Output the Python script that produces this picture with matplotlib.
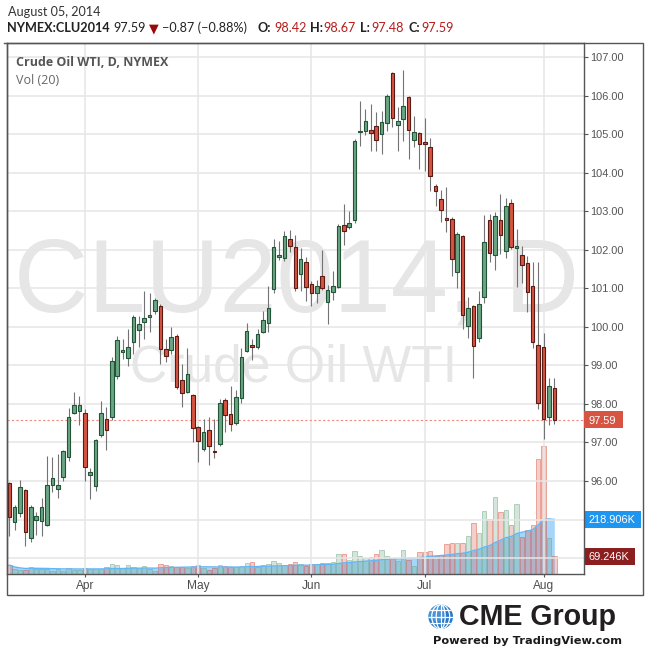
import numpy as np
import pandas as pd
import matplotlib
matplotlib.use('Agg')
import matplotlib.pyplot as plt
from matplotlib import font_manager
from matplotlib.colors import to_rgba
from matplotlib.patches import Rectangle, Circle, Ellipse
from matplotlib.transforms import blended_transform_factory

# daily candles of CLU2014, 12 Mar 2014 .. 5 Aug 2014
opens = [95.94, 94.93, 95.16, 95.76, 94.51, 94.99, 94.96, 94.85, 95.89, 95.79,
         96.10, 96.62, 97.76, 97.81, 97.76, 96.15, 95.86, 97.19, 97.60, 97.65,
         98.73, 99.35, 99.18, 99.60, 99.91, 100.12, 100.25, 100.40, 100.53, 99.42,
         99.39, 99.75, 98.61, 98.30, 98.22, 97.39, 96.82, 97.32, 96.79, 96.95,
         98.09, 97.73, 97.50, 98.15, 99.38, 99.52, 99.47, 99.86, 100.09, 100.98,
         101.80, 101.78, 102.27, 102.06, 101.36, 101.67, 101.10, 100.87, 101.31, 100.64,
         100.90, 101.04, 102.63, 102.58, 102.76, 105.05, 105.07, 105.10, 105.20, 105.00,
         105.28, 106.58, 105.23, 105.38, 105.95, 104.84, 105.02, 104.79, 104.66, 103.65,
         103.31, 102.82, 102.79, 101.42, 102.35, 100.03, 100.53, 99.72, 100.78, 102.76,
         101.86, 102.76, 101.96, 103.21, 102.04, 101.86, 101.65, 101.05, 99.52, 99.47,
         97.65, 98.42]
highs = [95.98, 95.38, 96.03, 95.79, 95.38, 95.19, 95.56, 96.64, 96.62, 96.70,
         96.81, 97.89, 98.30, 98.20, 97.87, 96.33, 97.08, 98.07, 97.91, 99.21,
         99.75, 99.68, 99.93, 100.31, 100.27, 100.92, 100.87, 100.74, 100.58, 99.68,
         99.99, 99.81, 99.04, 99.44, 98.25, 97.42, 97.61, 97.65, 97.61, 98.12,
         98.15, 98.46, 98.35, 99.44, 100.10, 99.68, 99.93, 100.40, 101.05, 102.28,
         102.23, 102.48, 102.51, 102.38, 102.05, 101.81, 101.19, 101.22, 101.99, 101.09,
         101.45, 102.67, 103.19, 103.00, 104.87, 105.85, 105.65, 105.77, 105.57, 105.59,
         106.03, 106.60, 105.70, 106.66, 105.98, 105.46, 105.05, 105.41, 104.89, 103.71,
         103.55, 103.62, 102.85, 102.46, 102.38, 100.77, 100.56, 100.92, 102.90, 102.93,
         102.97, 103.44, 103.34, 103.32, 102.54, 102.10, 101.83, 101.67, 101.67, 99.83,
         98.67, 98.67]
lows = [94.58, 94.74, 95.06, 94.32, 94.43, 94.60, 94.58, 94.83, 95.71, 95.55,
        95.99, 96.53, 97.74, 97.44, 96.01, 95.52, 95.75, 97.13, 96.81, 97.59,
        98.65, 99.17, 98.99, 99.30, 99.47, 99.68, 99.87, 100.33, 99.04, 99.08,
        99.30, 98.38, 97.93, 98.28, 97.02, 96.49, 96.78, 96.42, 96.60, 96.90,
        97.26, 97.29, 97.45, 98.02, 99.35, 99.14, 99.42, 99.83, 99.86, 100.87,
        101.72, 101.70, 101.93, 100.93, 100.92, 100.68, 100.55, 100.62, 100.95, 100.07,
        100.70, 101.01, 102.13, 102.54, 102.69, 104.68, 104.98, 104.55, 104.55, 104.48,
        105.07, 105.18, 104.55, 104.81, 104.35, 104.66, 104.09, 104.05, 103.53, 103.14,
        102.71, 102.47, 101.33, 101.00, 99.93, 99.72, 98.68, 99.61, 100.63, 101.67,
        101.48, 101.89, 101.79, 102.02, 101.02, 101.14, 100.38, 99.44, 97.88, 97.09,
        97.44, 97.48]
closes = [95.06, 95.32, 95.84, 94.67, 95.32, 95.09, 95.32, 95.89, 96.07, 95.89,
          96.77, 97.65, 97.96, 97.96, 96.36, 96.23, 97.06, 97.76, 97.32, 99.11,
          99.65, 99.39, 99.47, 100.25, 100.07, 100.22, 100.30, 100.69, 99.42, 99.24,
          99.73, 98.43, 98.28, 98.77, 97.37, 97.03, 97.26, 96.90, 96.74, 98.02,
          97.71, 97.47, 98.17, 99.21, 99.88, 99.47, 99.81, 100.17, 100.48, 102.06,
          101.85, 102.35, 102.09, 101.00, 101.75, 101.03, 100.87, 101.05, 101.00, 100.95,
          101.05, 102.61, 102.48, 102.69, 104.81, 105.09, 105.33, 105.02, 104.84, 105.31,
          105.98, 105.41, 105.33, 105.72, 105.10, 105.05, 104.74, 104.74, 103.91, 103.51,
          103.02, 102.78, 101.75, 102.40, 100.30, 100.48, 99.51, 100.58, 102.19, 101.92,
          102.87, 102.37, 103.13, 102.06, 102.09, 101.60, 100.90, 99.60, 98.02, 97.60,
          98.46, 97.59]
# volume in thousands of contracts
volumes = [34, 19, 15, 13, 26, 19, 19, 19, 11, 17,
           12, 21, 16, 15, 21, 20, 17, 20, 26, 39,
           34, 21, 34, 26, 24, 30, 17, 11, 38, 34,
           30, 26, 26, 21, 30, 34, 21, 15, 21, 34,
           30, 26, 26, 30, 42, 46, 26, 35, 38, 50,
           42, 35, 38, 46, 38, 31, 38, 38, 42, 41,
           45, 80, 80, 54, 92, 70, 64, 66, 78, 96,
           70, 61, 51, 94, 55, 31, 86, 86, 92, 72,
           76, 119, 123, 123, 123, 151, 205, 165, 255, 220,
           310, 250, 258, 196, 283, 149, 177, 197, 465, 515,
           143, 69.246]
holidays = ['2014-04-18', '2014-05-26', '2014-07-04']

title_date = 'August 05, 2014'
symbol = 'NYMEX:CLU2014'
series_name = 'Crude Oil WTI, D, NYMEX'
vol_name = 'Vol (20)'
watermark = 'CLU2014, D'
watermark_sub = 'Crude Oil WTI'
ma_label = '218.906K'

UP, DOWN = '#6ba583', '#d75442'
UP_EDGE, DOWN_EDGE = '#225437', '#5b1a13'
WICK = '#737375'

names = {f.name for f in font_manager.fontManager.ttflist}
head_font = 'Lato' if 'Lato' in names else 'DejaVu Sans'
plt.rcParams['font.family'] = ['Liberation Sans', 'DejaVu Sans']

dates = pd.bdate_range('2014-03-12', '2014-08-05')
dates = dates[~dates.isin(pd.to_datetime(holidays))]
o = np.array(opens)
h = np.array(highs)
l = np.array(lows)
c = np.array(closes)
v = np.array(volumes)
x = np.arange(len(c))
up = c >= o
ma = pd.Series(v).rolling(20, min_periods=1).mean().values
month_starts = [i for i in range(1, len(dates)) if dates[i].month != dates[i - 1].month]

W, H = 650, 652
L, R, T, B = 6.7, 584.3, 42.7, 573.5
fig = plt.figure(figsize=(W / 100, H / 100), dpi=100, facecolor='white')
renderer = fig.canvas.get_renderer()

ax = fig.add_axes([L / W, 1 - B / H, (R - L) / W, (B - T) / H])
vax = ax.twinx()
ax.set_zorder(2)
vax.set_zorder(1)
ax.patch.set_visible(False)

ax.set_xlim(-0.48, 106.56)
ax.set_ylim(93.60, 107.37)
vax.set_ylim(0, 2150)

# volume + 20 day average
vax.fill_between(x, 0, ma, color='#2196f3', alpha=0.4, lw=0, zorder=1)
vax.plot(x, ma, color='#64b5f6', lw=1.0, zorder=3)
vax.bar(x, v, width=0.82,
        color=[to_rgba(UP if u else DOWN, 0.28) for u in up],
        edgecolor=[to_rgba(UP if u else DOWN, 0.55) for u in up],
        linewidth=0.6, zorder=2)
vax.set_yticks([])
for s in vax.spines.values():
    s.set_visible(False)

# watermark
ax.text(0.5009, 0.4927, watermark, transform=ax.transAxes, ha='center', va='baseline',
        fontsize=74, color='#e6e6e6', zorder=0.2)
ax.text(0.4957, 0.3613, watermark_sub, transform=ax.transAxes, ha='center', va='baseline',
        fontsize=37.2, color='#e6e6e6', zorder=0.2)

# candles
ax.axhline(c[-1], color='#ef8a80', lw=0.8, ls=(0, (2, 2)), zorder=1.5)
ax.vlines(x, l, h, color=WICK, lw=0.8, zorder=2)
body = np.maximum(np.abs(c - o), 0.03)
ax.bar(x, body, bottom=(o + c) / 2 - body / 2, width=0.66,
       color=np.where(up, UP, DOWN), edgecolor=np.where(up, UP_EDGE, DOWN_EDGE),
       linewidth=0.8, zorder=3)

# axes, ticks, grid
ax.yaxis.tick_right()
ax.set_yticks(range(96, 108))
ax.set_yticklabels([f'{p:.2f}' for p in range(96, 108)])
ax.set_yticks([94, 95], minor=True)
ax.tick_params(axis='y', which='minor', length=0)
ax.tick_params(axis='y', which='major', length=3, width=0.8, color='#555555', pad=1.5,
               labelsize=7.9, labelcolor='#555555')
ax.set_xticks(month_starts)
ax.set_xticklabels([dates[i].strftime('%b') for i in month_starts])
ax.tick_params(axis='x', length=2.5, width=0.8, color='#555555', pad=2.5,
               labelsize=8.6, labelcolor='#4d4d4d')
ax.grid(True, which='both', color='#e6e6e6', lw=1.1)
ax.set_axisbelow(True)
for s in ax.spines.values():
    s.set_color('#555555')
    s.set_linewidth(1.0)


def value_tag(axis, value, text, color, width_px):
    trans = blended_transform_factory(ax.transAxes, axis.transData)
    lo, hi = axis.get_ylim()
    hgt = 16.5 * (hi - lo) / (B - T)
    axis.add_patch(Rectangle((1.0, value - hgt / 2), width_px / (R - L), hgt, transform=trans,
                             facecolor=color, edgecolor='none', clip_on=False, zorder=10))
    axis.text(1.0 + 4.5 / (R - L), value, text, transform=trans, color='white', fontsize=7.9,
              ha='left', va='center_baseline', clip_on=False, zorder=11)


value_tag(ax, c[-1], f'{c[-1]:.2f}', '#d75442', 39)
value_tag(vax, ma[-1], ma_label, '#1e96f0', 57)
value_tag(vax, v[-1], f'{v[-1]:.3f}K', '#8b1e1e', 51)

ax.text(15.5 / (R - L) - L / (R - L), (B - 65.5) / (B - T), series_name, transform=ax.transAxes,
        fontsize=9.0, fontweight='bold', color='#555555', family='Open Sans')
ax.text(15.5 / (R - L) - L / (R - L), (B - 84.5) / (B - T), vol_name, transform=ax.transAxes,
        fontsize=9.0, color='#666666', family='Open Sans')


def fit(t, width):
    bb = t.get_window_extent(renderer)
    t.set_fontsize(t.get_fontsize() * width / bb.width)
    return t


# header lines
t = fig.text(7.5 / W, 1 - 16 / H, title_date, fontsize=10, color='#333333', family=head_font)
fit(t, 92)
hs = t.get_fontsize()

red = '#b71c1c'
chg = c[-1] - c[-2]
pct = chg / c[-2] * 100
pieces = [
    (symbol, 7.5, 'bold', '#222222'),
    (f'{c[-1]:.2f}', 113, 'normal', '#222222'),
    ('\u25bc', 148.5, 'normal', '#9b0a0a'),
    (f'{chg:.2f} ({pct:.2f}%)'.replace('-', '\u2212'), 162.5, 'normal', '#222222'),
    ('O:', 257, 'bold', '#222222'), (f'{o[-1]:.2f}', 274.5, 'normal', red),
    ('H:', 310, 'bold', '#222222'), (f'{h[-1]:.2f}', 323.4, 'normal', red),
    ('L:', 360, 'bold', '#222222'), (f'{l[-1]:.2f}', 371, 'normal', red),
    ('C:', 408.4, 'bold', '#222222'), (f'{c[-1]:.2f}', 421.6, 'normal', red),
]
for s, px, wt, col in pieces:
    fam = [head_font, 'DejaVu Sans']
    fig.text(px / W, 1 - 32.5 / H, s, fontsize=hs, fontweight=wt, color=col, family=fam)

# frame and logo
ov = fig.add_axes([0, 0, 1, 1])
ov.set_xlim(0, W)
ov.set_ylim(H, 0)
ov.axis('off')
ov.patch.set_visible(False)
ov.set_zorder(5)
ov.add_patch(Rectangle((L, T), 642.7 - L, 595 - T, fill=False, ec='#555555', lw=1.0))
ov.plot([4, L], [T, T], color='#555555', lw=1.0)

gx, gy, gr = 440.7, 616.7, 12.3
globe = Circle((gx, gy), gr, fc='#2a78c8', ec='none')
ov.add_patch(globe)
hi_spot = Circle((gx - 4, gy - 4), gr * 0.75, fc='#5aa2e6', ec='none', alpha=0.6)
ov.add_patch(hi_spot)
hi_spot.set_clip_path(globe)
for dy in (-6.5, 0, 6.5):
    ln, = ov.plot([gx - gr, gx + gr], [gy + dy, gy + dy], color='white', lw=0.9)
    ln.set_clip_path(globe)
for wd in (9, 18):
    e = Ellipse((gx, gy), wd, 2 * gr, fill=False, ec='white', lw=0.9)
    ov.add_patch(e)
    e.set_clip_path(globe)
ln, = ov.plot([gx, gx], [gy - gr, gy + gr], color='white', lw=0.9)
ln.set_clip_path(globe)

t = fig.text(459.3 / W, 1 - 625 / H, 'CME Group', fontsize=18, fontweight='bold',
             color='#231f20', family='Liberation Sans')
fit(t, 157.4)
t = fig.text(433.3 / W, 1 - 644 / H, 'Powered by TradingView.com', fontsize=9,
             fontweight='bold', color='#1a1a1a', family='DejaVu Sans')
fit(t, 186.7)

fig.savefig('out.png', dpi=100, facecolor='white')
